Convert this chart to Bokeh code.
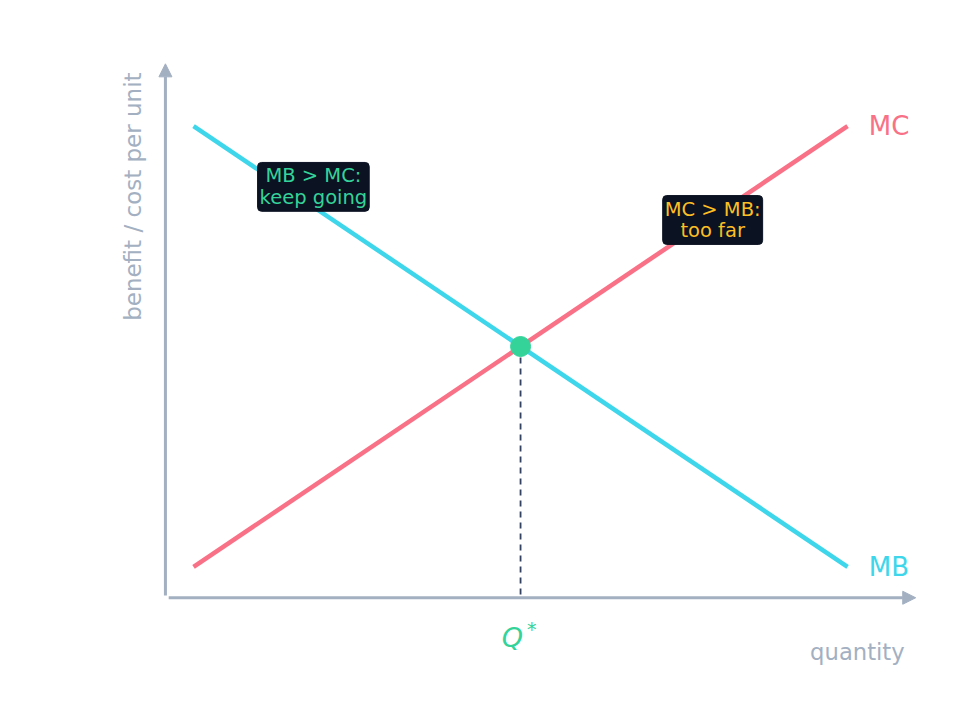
from bokeh.plotting import figure
from bokeh.models import Range1d, Label, Arrow, NormalHead
from bokeh.embed import file_html
from bokeh.resources import INLINE
from bokeh.core.properties import value

# ---- data ----
quantity = [1, 9]
mb_values = [9, 1]
mc_values = [1, 9]
q_star = 5
p_star = 5
curve_names = ["MB", "MC"]
annot_texts = ["MB > MC:\nkeep going", "MC > MB:\ntoo far"]
x_label = "quantity"
y_label = "benefit / cost per unit"

# ---- style ----
FONT = "DejaVu Sans"
C_MB = "#3dd6ea"
C_MC = "#f97186"
C_GREEN = "#34d399"
C_AMBER = "#fbbf24"
C_AXIS = "#a3b0c2"
C_BOX = "#0b1222"
C_DASH = "#334260"

# pixel calibration (data -> px)
SX, OX = 81.75, 112.3
SY, OY = 55.1, 622.5
W, H = 950, 710
ORG = 1

p = figure(width=W, height=H, output_backend="svg", toolbar_location=None,
           x_range=Range1d((ORG - OX) / SX, (ORG + W - OX) / SX),
           y_range=Range1d((OY - ORG - H) / SY, (OY - ORG) / SY),
           x_axis_location=None, y_axis_location=None, min_border=0)
p.grid.visible = False
p.outline_line_color = None
p.background_fill_color = "white"

ax0_q, ax0_v = 0.656, 0.44
# axes arrows
p.add_layout(Arrow(x_start=ax0_q + 0.04, y_start=ax0_v, x_end=9.834, y_end=ax0_v,
                   line_color=C_AXIS, line_width=3,
                   end=NormalHead(size=13, fill_color=C_AXIS, line_color=C_AXIS, line_width=1)))
p.add_layout(Arrow(x_start=ax0_q, y_start=ax0_v + 0.04, x_end=ax0_q, y_end=10.13,
                   line_color=C_AXIS, line_width=3,
                   end=NormalHead(size=13, fill_color=C_AXIS, line_color=C_AXIS, line_width=1)))

# dashed drop line
p.line([q_star, q_star], [p_star, ax0_v], line_color=C_DASH, line_width=1.8, line_dash="6 5")

# curves
p.line(quantity, mb_values, line_color=C_MB, line_width=4.5)
p.line(quantity, mc_values, line_color=C_MC, line_width=4.5)

# equilibrium dot
p.scatter([q_star], [p_star], size=20, fill_color=C_GREEN, line_color=C_GREEN)

# curve end labels
p.text(x=[quantity[-1] + 0.26], y=[mb_values[-1]], text=[curve_names[0]],
       text_color=C_MB, text_font=value(FONT), text_font_size="26px",
       text_align="left", text_baseline="middle")
p.text(x=[quantity[-1] + 0.26], y=[mc_values[-1]], text=[curve_names[1]],
       text_color=C_MC, text_font=value(FONT), text_font_size="26px",
       text_align="left", text_baseline="middle")

# annotations
for txt, (xq, yv), col in [(annot_texts[0], (2.466, 7.897), C_GREEN),
                           (annot_texts[1], (7.35, 7.296), C_AMBER)]:
    p.add_layout(Label(x=xq, y=yv, text=txt, text_color=col, text_font=FONT,
                       text_font_size="19.5px", text_align="center", text_baseline="middle",
                       background_fill_color=C_BOX, border_line_color=C_BOX,
                       border_radius=4, padding=2, text_line_height=0.95))

# Q*
p.add_layout(Label(x=q_star + 0.03, y=-0.277, text="Q", text_color=C_GREEN, text_font=FONT,
                   text_font_style="italic", text_font_size="27px",
                   text_align="right", text_baseline="middle"))
p.add_layout(Label(x=q_star + 0.08, y=-0.12, text="*", text_color=C_GREEN, text_font=FONT,
                   text_font_size="19px", text_align="left", text_baseline="middle"))

# axis titles
p.add_layout(Label(x=9.699, y=-0.549, text=x_label, text_color=C_AXIS, text_font=FONT,
                   text_font_size="22.7px", text_align="right", text_baseline="middle"))
p.add_layout(Label(x=0.264, y=7.72, text=y_label, text_color=C_AXIS, text_font=FONT,
                   text_font_size="23px", text_align="center", text_baseline="middle",
                   angle=1.5707963))

open("out.html", "w").write(file_html(p, INLINE))
